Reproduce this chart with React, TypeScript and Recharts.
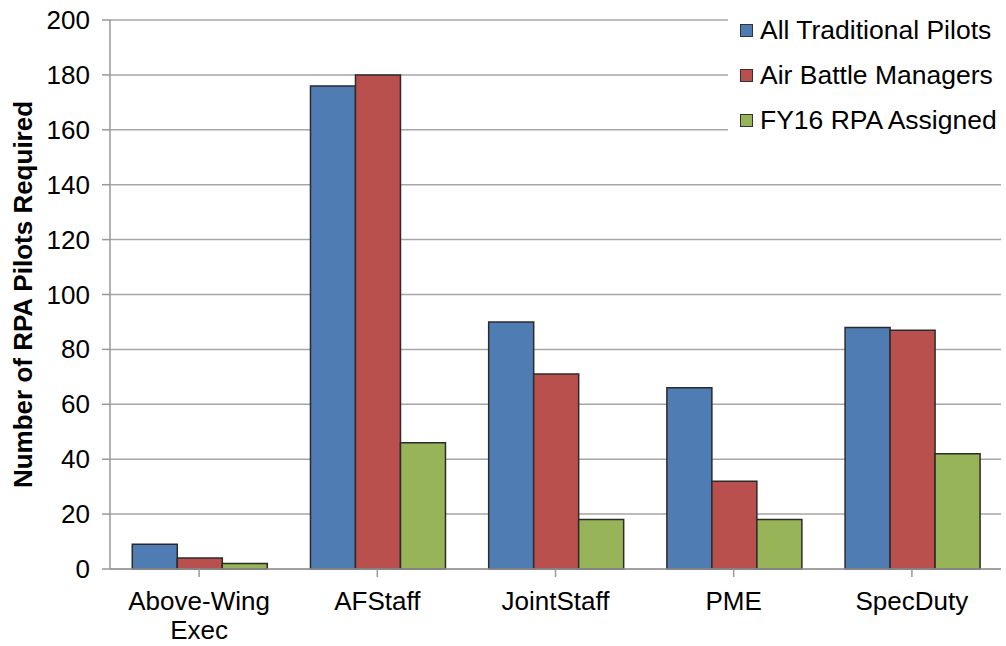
import React from 'react'
import { BarChart, Bar, XAxis, YAxis, CartesianGrid, Legend } from 'recharts'

const categories = ['Above-Wing\nExec', 'AFStaff', 'JointStaff', 'PME', 'SpecDuty']
const traditionalPilots = [9, 176, 90, 66, 88]
const airBattleManagers = [4, 180, 71, 32, 87]
const fy16Assigned = [2, 46, 18, 18, 42]
const yTicks = [0, 20, 40, 60, 80, 100, 120, 140, 160, 180, 200]

const series = [
  { key: 'trad', name: 'All Traditional Pilots', color: '#4F7DB3' },
  { key: 'abm', name: 'Air Battle Managers', color: '#B9504D' },
  { key: 'fy16', name: 'FY16 RPA Assigned', color: '#98B458' },
]

const data = categories.map((c, i) => ({
  cat: c,
  trad: traditionalPilots[i],
  abm: airBattleManagers[i],
  fy16: fy16Assigned[i],
}))

const FONT = 'Arial, "Liberation Sans", sans-serif'
const FS = 26

function XTick({ x, y, payload }: any) {
  const lines = String(payload.value).split('\n')
  return (
    <text x={x} y={y} textAnchor='middle' fontFamily={FONT} fontSize={FS} fill='#000'>
      {lines.map((l, i) => (
        <tspan key={i} x={x} dy={i === 0 ? 31 : 29}>
          {l}
        </tspan>
      ))}
    </text>
  )
}

function YTick({ x, y, payload }: any) {
  return (
    <text x={x} y={y} dy={9} textAnchor='end' fontFamily={FONT} fontSize={FS} fill='#000'>
      {payload.value}
    </text>
  )
}

function LegendBox() {
  return (
    <div style={{ background: '#fff', padding: '6px 4px 8px 12px', fontFamily: FONT, fontSize: FS + 0.5 }}>
      {series.map((s) => (
        <div key={s.key} style={{ display: 'flex', alignItems: 'center', height: 45 }}>
          <span
            style={{
              width: 11,
              height: 11,
              background: s.color,
              border: '1px solid #333',
              marginRight: 7,
              display: 'inline-block',
              flex: 'none',
            }}
          />
          <span style={{ color: '#000', whiteSpace: 'nowrap', lineHeight: '45px' }}>{s.name}</span>
        </div>
      ))}
    </div>
  )
}

export default function App() {
  return (
    <div style={{ position: 'absolute', left: 0, top: 0, background: '#fff' }}>
      <BarChart
        width={1006}
        height={646}
        data={data}
        margin={{ top: 20, right: 5, left: 0, bottom: 0 }}
        barCategoryGap='12.5%'
        barGap={0}
      >
        <CartesianGrid vertical={false} stroke='#A6A6A6' strokeWidth={1.5} />
        <XAxis
          dataKey='cat'
          height={77}
          tick={<XTick />}
          tickLine={{ stroke: '#999', strokeWidth: 1.5 }}
          axisLine={{ stroke: '#999', strokeWidth: 1.5 }}
          tickSize={8}
          interval={0}
        />
        <YAxis
          width={110}
          domain={[0, 200]}
          ticks={yTicks}
          interval={0}
          tick={<YTick />}
          tickSize={8}
          tickMargin={12}
          tickLine={{ stroke: '#999', strokeWidth: 1.5 }}
          axisLine={{ stroke: '#999', strokeWidth: 1.5 }}
          label={{
            value: 'Number of RPA Pilots Required',
            angle: -90,
            position: 'insideLeft',
            offset: 23,
            style: { textAnchor: 'middle', fontFamily: FONT, fontSize: FS, fontWeight: 'bold', fill: '#000' },
          }}
        />
        <Legend
          layout='vertical'
          align='center'
          verticalAlign='middle'
          content={<LegendBox />}
          wrapperStyle={{ top: 2, left: 728, right: 'auto', width: 'auto', height: 'auto' }}
        />
        {series.map((s) => (
          <Bar
            key={s.key}
            dataKey={s.key}
            name={s.name}
            fill={s.color}
            stroke='#2b2b2b'
            strokeWidth={1.5}
            isAnimationActive={false}
          />
        ))}
      </BarChart>
    </div>
  )
}
